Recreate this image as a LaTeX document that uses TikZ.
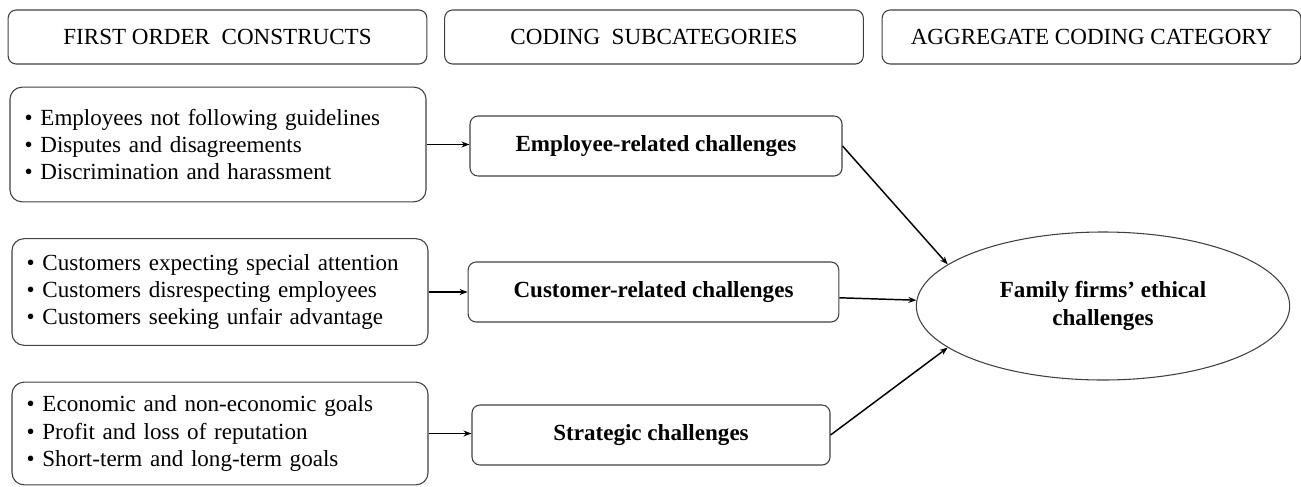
\documentclass[tikz,border=0pt]{standalone}
\usepackage{fontspec}
\setmainfont{Liberation Serif}
\usetikzlibrary{positioning,calc,arrows,arrows.meta,shapes.geometric}

\begin{document}
\begin{tikzpicture}[x=0.75pt, y=-0.75pt]
	\useasboundingbox (0,0) rectangle (1301,486);
	\begin{scope}
		\tikzstyle{every node}=[font=\fontsize{17.3}{20.6}\selectfont, inner sep=0.2em]
		\tikzstyle{head}=[draw=black!75, line width=0.8pt, rounded corners=6pt, minimum width=314pt, minimum height=40.5pt]
		\tikzstyle{items}=[draw=black!75, line width=0.8pt, rounded corners=9pt, minimum width=312pt, text width=290pt, align=left, inner xsep=11pt]
		\tikzstyle{sub}=[draw=black!75, line width=0.8pt, rounded corners=6pt, minimum height=45pt, font=\fontsize{17.3}{20.6}\selectfont\bfseries]
		\tikzstyle{link}=[line width=1.1pt, -{Stealth[length=6pt, width=4.5pt]}]

		% column headers
		\node[head] (foc) at (217.5, 37) {FIRST ORDER\ \ CONSTRUCTS};
		\node[head] (csc) at (654, 37)   {CODING\ \ SUBCATEGORIES};
		\node[head] (acc) at (1091.5, 37) {AGGREGATE CODING CATEGORY};

		% first order constructs
		\node[items, minimum height=86pt] (emplist) at (218, 144.5)
			{\textbullet\ Employees not following guidelines\\
			 \textbullet\ Disputes and disagreements\\
			 \textbullet\ Discrimination and harassment};
		\node[items, minimum height=80pt] (custlist) at (220, 292)
			{\textbullet\ Customers expecting special attention\\
			 \textbullet\ Customers disrespecting employees\\
			 \textbullet\ Customers seeking unfair advantage};
		\node[items, minimum height=77pt] (stratlist) at (220, 433.5)
			{\textbullet\ Economic and non-economic goals\\
			 \textbullet\ Profit and loss of reputation\\
			 \textbullet\ Short-term and long-term goals};

		% subcategories
		\node[sub, minimum width=279pt] (emp)   at (656, 146)   {Employee-related challenges};
		\node[sub, minimum width=278pt] (cust)  at (653.5, 292) {Customer-related challenges};
		\node[sub, minimum width=268.5pt] (strat) at (651, 435)  {Strategic challenges};

		% aggregate category
		\node[draw=black!75, line width=0.8pt, ellipse, minimum width=280pt, minimum height=111pt,
			align=center, font=\fontsize{17.3}{21.5}\selectfont\bfseries] (fam) at (1103, 306)
			{Family firms’ ethical\\challenges};

		\draw [link] (emplist.east) -- (emplist.east -| emp.west);
		\draw [link] (custlist.east) -- (custlist.east -| cust.west);
		\draw [link] (stratlist.east) -- (stratlist.east -| strat.west);

		\draw [link] (emp.east) -- (fam.165);
		\draw [link] (cust) -- (fam);
		\draw [link] (strat.east) -- (fam.195);
	\end{scope}
\end{tikzpicture}
\end{document}
